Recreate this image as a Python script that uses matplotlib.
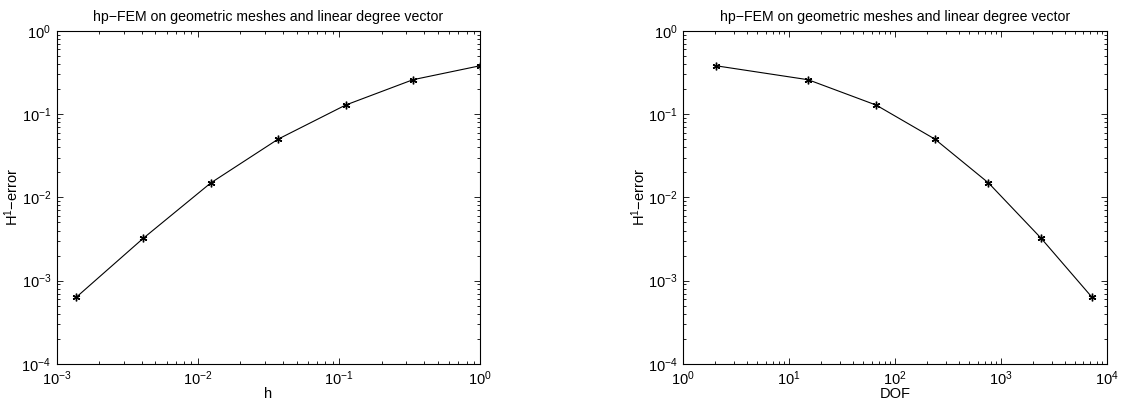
import matplotlib
matplotlib.use('Agg')
import matplotlib.pyplot as plt
from matplotlib.ticker import LogLocator, NullFormatter

plt.rcParams['font.family'] = ['Liberation Sans', 'DejaVu Sans']
plt.rcParams['mathtext.default'] = 'regular'
plt.rcParams['font.size'] = 10

h = [1.0, 1/3, 1/9, 1/27, 1/81, 1/243, 1/729]
dof = [2.02, 15.1, 66.3, 237.5, 762, 2388, 7253]
err = [0.38, 0.258, 0.128, 0.050, 0.0149, 0.00324, 0.00063]

title = 'hp\u2212FEM on geometric meshes and linear degree vector'
ylabel = 'H$^1$\u2212error'

fig = plt.figure(figsize=(11.25, 4.04), dpi=100)
ax1 = fig.add_axes([0.0504, 0.099, 0.3765, 0.825])
ax2 = fig.add_axes([0.6074, 0.099, 0.3765, 0.825])

panels = [(ax1, h, 'h', (1e-3, 1e0)), (ax2, dof, 'DOF', (1e0, 1e4))]
for ax, x, xl, xlim in panels:
    ax.loglog(x, err, '-', color='k', lw=0.8, marker=(6, 2, 0), ms=5.5, mew=1.0)
    ax.set_xlim(*xlim)
    ax.set_ylim(1e-4, 1e0)
    ax.set_title(title, fontsize=10.2, pad=7)
    ax.set_xlabel(xl, fontsize=10.5, labelpad=-1)
    ax.set_ylabel(ylabel, fontsize=10.5, labelpad=0)
    for axis in (ax.xaxis, ax.yaxis):
        axis.set_major_locator(LogLocator(base=10, numticks=10))
        axis.set_minor_locator(LogLocator(base=10, subs=range(2, 10), numticks=10))
        axis.set_minor_formatter(NullFormatter())
    ax.tick_params(which='both', direction='in', top=True, right=True, width=0.6)
    ax.tick_params(which='major', length=4, pad=4, labelsize=10.5)
    ax.tick_params(which='minor', length=2)
    for s in ax.spines.values():
        s.set_linewidth(0.8)

fig.savefig('out.png', dpi=100)
